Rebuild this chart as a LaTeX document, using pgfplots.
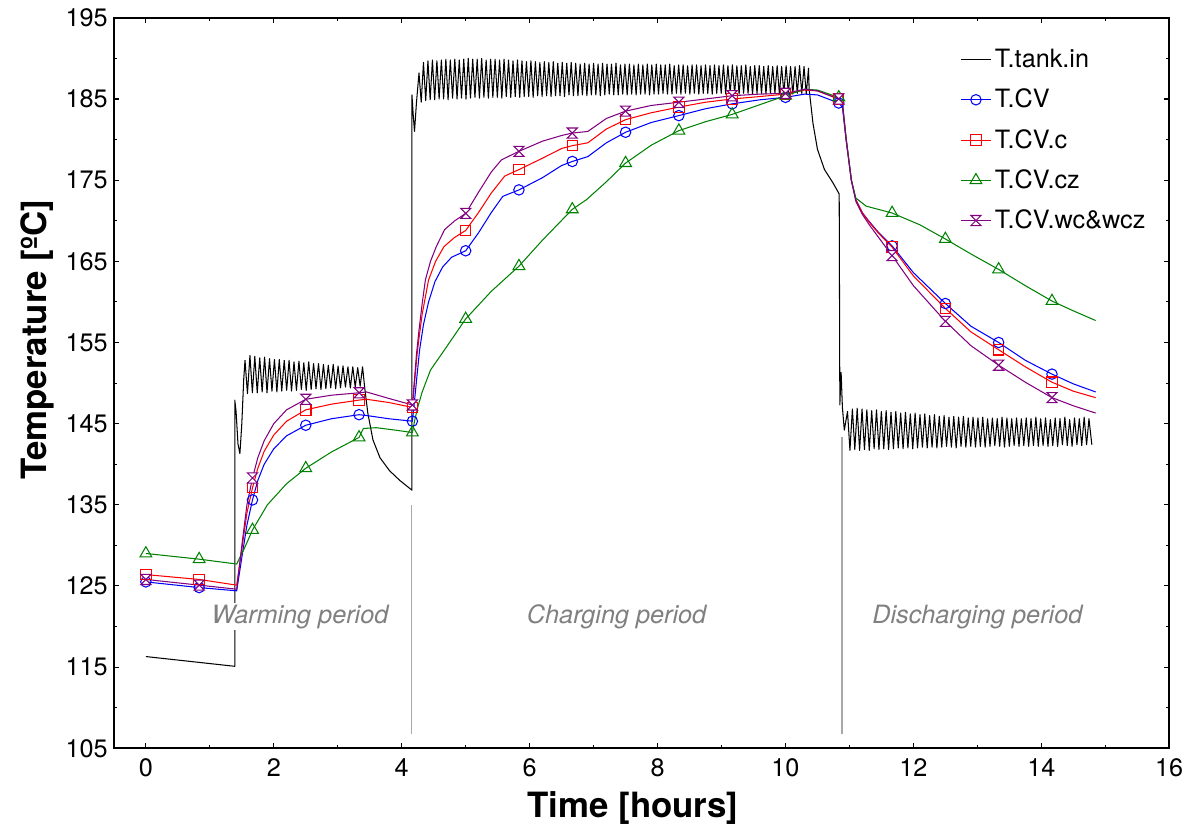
\documentclass[border=0pt]{standalone}
\usepackage{fontspec}
\setmainfont{TeX Gyre Heros}
\usepackage{pgfplots}
\pgfplotsset{compat=1.18}
\definecolor{cvgreen}{HTML}{008000}
\definecolor{cvpurple}{HTML}{800080}
\definecolor{lblgray}{HTML}{808080}
\definecolor{vline}{HTML}{A8A8A8}

% hourglass marker for T.CV.wc&wcz
\pgfdeclareplotmark{hourglass}{%
  \pgfpathmoveto{\pgfqpoint{-\pgfplotmarksize}{\pgfplotmarksize}}%
  \pgfpathlineto{\pgfqpoint{\pgfplotmarksize}{\pgfplotmarksize}}%
  \pgfpathlineto{\pgfqpoint{-\pgfplotmarksize}{-\pgfplotmarksize}}%
  \pgfpathlineto{\pgfqpoint{\pgfplotmarksize}{-\pgfplotmarksize}}%
  \pgfpathclose
  \pgfusepathqfillstroke
}

\begin{document}
\begin{tikzpicture}
\begin{axis}[
  scale only axis, width=21.31cm, height=14.75cm,
  xmin=-0.5, xmax=16, ymin=105, ymax=195,
  xtick={0,2,...,16}, ytick={105,115,...,195},
  minor x tick num=1, minor y tick num=1,
  tick align=inside, major tick length=0.11cm, minor tick length=0.06cm,
  axis line style={line width=1pt},
  every tick/.style={black, line width=0.6pt},
  tick label style={font=\fontsize{14.5}{16}\selectfont},
  xticklabel style={yshift=-0.08cm},
  /pgf/number format/assume math mode=true,
  xlabel={Time [hours]}, ylabel={Temperature [ºC]},
  label style={font=\fontsize{20}{24}\selectfont\bfseries},
  xlabel style={at={(ticklabel cs:0.492)}, yshift=-0.06cm},
  ylabel style={at={(ticklabel cs:0.559)}},
  legend style={draw=none, fill=none, at={(0.797,0.967)}, anchor=north west,
    font=\fontsize{14.5}{13.5}\selectfont, row sep=6.8pt},
  legend cell align=left,
]
\addlegendimage{black, line width=0.6pt}
\addlegendentry{\strut T.tank.in}
\addlegendimage{blue, line width=0.6pt, mark=o, mark size=3pt, mark options={fill=white}}
\addlegendentry{\strut T.CV}
\addlegendimage{red, line width=0.6pt, mark=square, mark size=3pt, mark options={fill=white}}
\addlegendentry{\strut T.CV.c}
\addlegendimage{cvgreen, line width=0.6pt, mark=triangle, mark size=3.9pt, mark options={fill=white}}
\addlegendentry{\strut T.CV.cz}
\addlegendimage{cvpurple, line width=0.6pt, mark=hourglass, mark size=2.9pt, mark options={fill=white}}
\addlegendentry{\strut T.CV.wc\&wcz}

% period separators
\addplot[vline, line width=0.9pt, forget plot] coordinates {(4.15,106.8) (4.15,135.0)};
\addplot[vline, line width=0.9pt, forget plot] coordinates {(10.88,106.8) (10.88,143.3)};

% T.tank.in
\addplot[black, line width=0.6pt, line join=round, forget plot] coordinates {
(0,116.3) (1.39,115.1) (1.39,147.9) (1.41,146.5) (1.44,142.5) (1.47,141.3) (1.50,145.0) (1.53,150.5)
(1.550,152.8) (1.588,148.7) (1.627,153.4) (1.665,148.8) (1.703,153.3) (1.741,148.8) (1.780,153.1) (1.818,148.9)
(1.856,153.2) (1.894,148.8) (1.933,153.0) (1.971,149.0) (2.010,152.9) (2.048,148.9) (2.086,152.9) (2.124,149.0)
(2.163,152.8) (2.201,149.1) (2.239,152.8) (2.277,149.0) (2.316,152.6) (2.354,149.1) (2.393,152.7) (2.431,149.2)
(2.469,152.5) (2.507,149.1) (2.546,152.6) (2.584,149.2) (2.622,152.4) (2.660,149.3) (2.699,152.4) (2.737,149.2)
(2.776,152.3) (2.814,149.3) (2.852,152.2) (2.890,149.4) (2.929,152.3) (2.967,149.3) (3.005,152.1) (3.043,149.4)
(3.082,152.1) (3.120,149.5) (3.159,152.0) (3.197,149.4) (3.235,152.0) (3.273,149.5) (3.312,151.9) (3.350,149.6)
(3.388,152.0)
(3.42,149.5) (3.47,146.3) (3.55,143.0) (3.66,140.8) (3.81,139.2) (3.97,138.0) (4.16,136.8)
(4.16,185.5) (4.18,183.0) (4.20,181.0) (4.23,184.5) (4.27,188.2)
(4.305,184.6) (4.34,189.5) (4.375,184.8) (4.41,189.7) (4.445,184.9) (4.48,189.8) (4.515,184.9) (4.55,189.7)
(4.585,185.0) (4.62,189.8) (4.655,185.0) (4.69,189.9) (4.725,184.9) (4.76,189.8) (4.795,185.1) (4.83,189.9)
(4.865,185.0) (4.90,189.8) (4.935,185.1) (4.97,189.9) (5.005,185.0) (5.04,190.0) (5.075,185.1) (5.11,189.9)
(5.145,185.2) (5.18,189.9) (5.215,185.1) (5.25,190.0) (5.285,185.2) (5.32,189.8) (5.355,185.1) (5.39,189.9)
(5.425,185.2) (5.46,189.9) (5.495,185.2) (5.53,189.8) (5.565,185.1) (5.60,189.9) (5.635,185.3) (5.67,189.8)
(5.705,185.2) (5.74,189.7) (5.775,185.3) (5.81,189.8) (5.845,185.2) (5.88,189.7) (5.915,185.3) (5.95,189.6)
(5.985,185.3) (6.02,189.7) (6.055,185.2) (6.09,189.6) (6.125,185.4) (6.16,189.5) (6.195,185.3) (6.23,189.6)
(6.265,185.4) (6.30,189.5) (6.335,185.3) (6.37,189.6) (6.405,185.4) (6.44,189.4) (6.475,185.4) (6.51,189.5)
(6.545,185.3) (6.58,189.4) (6.615,185.5) (6.65,189.5) (6.685,185.4) (6.72,189.4) (6.755,185.4) (6.79,189.3)
(6.825,185.5) (6.86,189.4) (6.895,185.4) (6.93,189.3) (6.965,185.5) (7.00,189.4) (7.035,185.5) (7.07,189.3)
(7.105,185.4) (7.14,189.4) (7.175,185.5) (7.21,189.3) (7.245,185.6) (7.28,189.3) (7.315,185.5) (7.35,189.4)
(7.385,185.5) (7.42,189.2) (7.455,185.6) (7.49,189.3) (7.525,185.5) (7.56,189.3) (7.595,185.6) (7.63,189.2)
(7.665,185.5) (7.70,189.3) (7.735,185.6) (7.77,189.2) (7.805,185.6) (7.84,189.3) (7.875,185.5) (7.91,189.2)
(7.945,185.6) (7.98,189.3) (8.015,185.6) (8.05,189.2) (8.085,185.7) (8.12,189.2) (8.155,185.6) (8.19,189.3)
(8.225,185.6) (8.26,189.1) (8.295,185.7) (8.33,189.2) (8.365,185.6) (8.40,189.2) (8.435,185.7) (8.47,189.1)
(8.505,185.6) (8.54,189.2) (8.575,185.7) (8.61,189.2) (8.645,185.6) (8.68,189.1) (8.715,185.7) (8.75,189.2)
(8.785,185.7) (8.82,189.1) (8.855,185.6) (8.89,189.2) (8.925,185.7) (8.96,189.1) (8.995,185.7) (9.03,189.2)
(9.065,185.6) (9.10,189.1) (9.135,185.7) (9.17,189.2) (9.205,185.7) (9.24,189.1) (9.275,185.6) (9.31,189.1)
(9.345,185.7) (9.38,189.2) (9.415,185.7) (9.45,189.0) (9.485,185.6) (9.52,189.1) (9.555,185.7) (9.59,189.1)
(9.625,185.7) (9.66,189.0) (9.695,185.6) (9.73,189.1) (9.765,185.7) (9.80,189.0) (9.835,185.7) (9.87,189.1)
(9.905,185.6) (9.94,189.0) (9.975,185.7) (10.01,189.1) (10.045,185.7) (10.08,189.0) (10.115,185.6) (10.15,189.0)
(10.185,185.7) (10.22,189.1) (10.255,185.7) (10.29,189.0) (10.325,185.6) (10.36,188.8)
(10.37,186.2) (10.43,182.0) (10.50,178.8) (10.61,176.3) (10.74,174.7) (10.84,173.3)
(10.85,147.3) (10.87,151.3) (10.89,147.0) (10.92,144.2)
(10.970,146.5) (11.008,141.7) (11.046,146.8) (11.084,141.8) (11.121,146.9) (11.159,141.7) (11.197,146.8) (11.235,141.8)
(11.272,146.7) (11.310,141.7) (11.348,146.6) (11.386,141.9) (11.423,146.7) (11.461,141.8) (11.499,146.5) (11.537,141.9)
(11.574,146.6) (11.612,141.8) (11.650,146.4) (11.688,141.9) (11.725,146.5) (11.763,142.0) (11.801,146.3) (11.839,141.9)
(11.876,146.4) (11.914,142.0) (11.952,146.2) (11.990,141.9) (12.027,146.3) (12.065,142.0) (12.103,146.1) (12.141,142.1)
(12.178,146.2) (12.216,142.0) (12.254,146.0) (12.292,142.1) (12.329,146.1) (12.367,142.0) (12.405,145.9) (12.443,142.1)
(12.480,146.0) (12.518,142.2) (12.556,145.8) (12.594,142.1) (12.631,145.9) (12.669,142.0) (12.707,145.8) (12.745,142.2)
(12.782,145.9) (12.820,142.1) (12.858,145.7) (12.896,142.2) (12.933,145.8) (12.971,142.1) (13.009,145.7) (13.047,142.2)
(13.084,145.8) (13.122,142.1) (13.160,145.6) (13.198,142.2) (13.235,145.7) (13.273,142.3) (13.311,145.6) (13.349,142.2)
(13.386,145.8) (13.424,142.1) (13.462,145.7) (13.500,142.2) (13.537,145.6) (13.575,142.3) (13.613,145.7) (13.651,142.2)
(13.688,145.6) (13.726,142.3) (13.764,145.7) (13.802,142.2) (13.839,145.6) (13.877,142.3) (13.915,145.8) (13.953,142.2)
(13.990,145.6) (14.028,142.3) (14.066,145.7) (14.104,142.2) (14.141,145.5) (14.179,142.3) (14.217,145.7) (14.255,142.2)
(14.292,145.6) (14.330,142.4) (14.368,145.8) (14.406,142.3) (14.443,145.5) (14.481,142.2) (14.519,145.7) (14.557,142.4)
(14.594,145.6) (14.632,142.3) (14.670,145.8) (14.708,142.4) (14.745,145.6) (14.79,142.4)
};

% T.CV
\addplot[blue, line width=0.6pt, forget plot] coordinates {
(0,125.5) (0.833,124.8) (1.42,124.4) (1.50,128.5) (1.58,132.5) (1.667,135.6) (1.75,138.0) (1.85,140.0) (2.0,141.9)
(2.2,143.5) (2.5,144.8) (2.9,145.6) (3.333,146.1) (3.45,146.0) (3.8,145.6) (4.167,145.3)
(4.20,147.8) (4.24,151.0) (4.28,154.1) (4.34,157.2) (4.42,160.0) (4.52,162.5) (4.64,164.3) (4.78,165.5) (5.0,166.3)
(5.2,168.5) (5.40,171.0) (5.58,173.0) (5.833,173.8) (6.2,175.3) (6.5,176.8) (6.667,177.3) (6.91,177.9) (7.2,179.6)
(7.5,180.9) (7.9,182.1) (8.333,182.95) (8.75,183.8) (9.167,184.4) (9.6,184.9) (10.0,185.2) (10.3,185.6)
(10.5,185.5) (10.833,184.5) (10.89,184.0) (10.95,179.8) (11.03,175.0) (11.10,172.6) (11.2,171.0) (11.31,169.9)
(11.45,168.6) (11.667,166.9) (12.0,163.6) (12.5,159.8) (12.9,157.0) (13.333,155.0) (13.75,152.8) (14.167,151.1)
(14.5,149.9) (14.85,148.9)};
% T.CV.c
\addplot[red, line width=0.6pt, forget plot] coordinates {
(0,126.4) (0.833,125.8) (1.42,125.1) (1.50,129.5) (1.58,134.0) (1.667,137.1) (1.75,139.5) (1.85,141.6) (2.0,143.6)
(2.2,145.3) (2.5,146.7) (2.9,147.4) (3.333,147.9) (3.45,148.0) (3.8,147.6) (4.167,147.0)
(4.20,150.0) (4.24,153.5) (4.27,155.5) (4.32,158.5) (4.42,162.7) (4.53,165.0) (4.66,166.8) (4.82,167.9) (5.0,168.8)
(5.2,171.0) (5.40,173.4) (5.61,175.5)
(5.833,176.3) (6.2,177.7) (6.5,178.9) (6.667,179.25) (6.91,179.6) (7.2,181.3) (7.5,182.45) (7.9,183.3)
(8.333,184.0) (8.75,184.6) (9.167,185.0) (9.6,185.3) (10.0,185.6) (10.3,186.1) (10.5,186.0) (10.833,185.0)
(10.89,184.5) (10.95,180.0) (11.03,175.0) (11.10,172.6) (11.2,171.0) (11.31,169.8) (11.45,168.5) (11.667,166.75)
(12.0,163.2) (12.5,159.2) (12.9,156.3) (13.333,154.1) (13.75,152.0) (14.167,150.1) (14.5,149.0) (14.85,148.2)};
% T.CV.cz
\addplot[cvgreen, line width=0.6pt, forget plot] coordinates {
(0,129.0) (0.833,128.3) (1.42,127.7) (1.55,129.8) (1.667,131.9) (1.9,135.0) (2.2,137.6) (2.5,139.5)
(2.9,141.5) (3.333,143.3) (3.40,144.4) (3.6,144.5) (3.9,144.2) (4.167,143.9)
(4.20,145.3) (4.25,147.0) (4.32,148.9) (4.45,151.6) (4.67,154.1) (5.0,157.9) (5.4,161.3) (5.833,164.4) (6.2,167.6)
(6.667,171.4) (6.89,172.6) (7.2,174.8) (7.5,177.1) (7.9,179.3) (8.333,181.1) (8.75,182.2) (9.167,183.1)
(9.6,184.3) (10.0,185.4) (10.3,186.2) (10.5,186.1) (10.833,185.2) (10.89,184.5) (10.95,180.0) (11.03,175.0)
(11.10,172.8) (11.26,171.8) (11.667,170.95) (12.1,169.5) (12.5,167.75) (12.9,165.9) (13.333,164.0) (13.75,162.0)
(14.167,160.1) (14.5,158.9) (14.85,157.7)};
% T.CV.wc&wcz
\addplot[cvpurple, line width=0.6pt, forget plot] coordinates {
(0,125.8) (0.833,125.1) (1.42,124.6) (1.50,130.0) (1.58,135.0) (1.667,138.3) (1.75,140.8) (1.85,142.9) (2.0,145.0)
(2.2,146.7) (2.5,148.0) (2.9,148.5) (3.333,148.8) (3.45,148.9) (3.8,148.1) (4.167,147.3)
(4.20,150.5) (4.23,153.5) (4.27,156.5) (4.32,159.8) (4.37,162.7) (4.45,165.0) (4.54,166.8) (4.67,168.9) (4.83,170.0) (5.0,170.9)
(5.2,173.5) (5.4,176.0)
(5.56,177.5) (5.833,178.55) (6.2,179.8) (6.5,180.5) (6.667,180.8) (6.91,181.0) (7.2,182.6) (7.5,183.5)
(7.9,184.2) (8.333,184.6) (8.75,185.0) (9.167,185.4) (9.6,185.6) (10.0,185.7) (10.3,186.2) (10.5,186.0)
(10.833,185.0) (10.89,184.5) (10.95,180.0) (11.03,175.0) (11.10,172.4) (11.2,170.8) (11.31,169.5) (11.45,168.0)
(11.667,165.7) (12.0,162.0) (12.5,157.6) (12.9,154.6) (13.333,152.2) (13.75,150.1) (14.167,148.2) (14.5,147.2)
(14.85,146.3)};

% markers every 50 min
\addplot[only marks, blue, mark=o, mark size=3pt, mark options={fill=white, line width=0.6pt}, forget plot] coordinates {
(0,125.5) (0.833,124.8) (1.667,135.6) (2.5,144.8) (3.333,146.1) (4.167,145.3) (5.0,166.3) (5.833,173.8) (6.667,177.3)
(7.5,180.9) (8.333,182.95) (9.167,184.4) (10.0,185.2) (10.833,184.5) (11.667,166.9) (12.5,159.8) (13.333,155.0) (14.167,151.1)};
\addplot[only marks, red, mark=square, mark size=3pt, mark options={fill=white, line width=0.6pt}, forget plot] coordinates {
(0,126.4) (0.833,125.8) (1.667,137.1) (2.5,146.7) (3.333,147.9) (4.167,147.0) (5.0,168.8) (5.833,176.3) (6.667,179.25)
(7.5,182.45) (8.333,184.0) (9.167,185.0) (10.0,185.6) (10.833,185.0) (11.667,166.75) (12.5,159.2) (13.333,154.1) (14.167,150.1)};
\addplot[only marks, cvgreen, mark=triangle, mark size=3.9pt, mark options={fill=white, line width=0.6pt}, forget plot] coordinates {
(0,129.0) (0.833,128.3) (1.667,131.9) (2.5,139.5) (3.333,143.3) (4.167,143.9) (5.0,157.9) (5.833,164.4) (6.667,171.4)
(7.5,177.1) (8.333,181.1) (9.167,183.1) (10.0,185.4) (10.833,185.2) (11.667,170.95) (12.5,167.75) (13.333,164.0) (14.167,160.1)};
\addplot[only marks, cvpurple, mark=hourglass, mark size=2.9pt, mark options={fill=white, line width=0.6pt}, forget plot] coordinates {
(0,125.8) (0.833,125.1) (1.667,138.3) (2.5,148.0) (3.333,148.8) (4.167,147.3) (5.0,170.9) (5.833,178.55) (6.667,180.8)
(7.5,183.5) (8.333,184.6) (9.167,185.4) (10.0,185.7) (10.833,185.0) (11.667,165.7) (12.5,157.6) (13.333,152.2) (14.167,148.2)};

\node[font=\fontsize{14.5}{16}\selectfont\itshape, text=lblgray, fill=white, inner sep=1pt] at (axis cs:2.41,121.2) {Warming period};
\node[font=\fontsize{14.5}{16}\selectfont\itshape, text=lblgray, inner sep=1pt] at (axis cs:7.36,121.2) {Charging period};
\node[font=\fontsize{14.5}{16}\selectfont\itshape, text=lblgray, inner sep=1pt] at (axis cs:13.0,121.2) {Discharging period};
\end{axis}
\path ([shift={(-2.30cm,-1.56cm)}]current axis.south west) rectangle ([shift={(0.48cm,0.36cm)}]current axis.north east);
\end{tikzpicture}
\end{document}
